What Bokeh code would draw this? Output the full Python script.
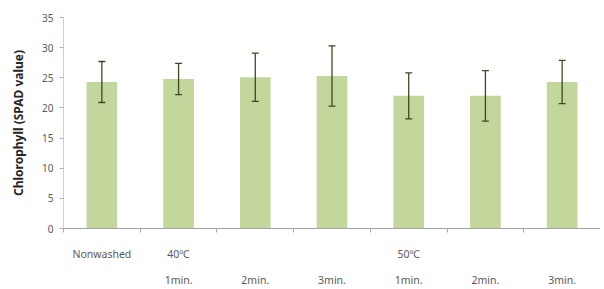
from bokeh.plotting import figure
from bokeh.models import (ColumnDataSource, Range1d, FixedTicker, LinearAxis,
                          Whisker, TeeHead)
from bokeh.embed import file_html
from bokeh.resources import INLINE

# ---- data ----
treatments = ["Nonwashed", "40℃ 1min.", "40℃ 2min.", "40℃ 3min.",
              "50℃ 1min.", "50℃ 2min.", "50℃ 3min."]
row1_labels = ["Nonwashed", "40℃", "", "", "50℃", "", ""]
row2_labels = ["", "1min.", "2min.", "3min.", "1min.", "2min.", "3min."]
spad_mean = [24.3, 24.8, 25.1, 25.3, 22.0, 22.0, 24.3]
spad_err = [3.4, 2.6, 4.0, 5.0, 3.8, 4.2, 3.6]
y_ticks = [0, 5, 10, 15, 20, 25, 30, 35]

xs = [i + 1 for i in range(len(treatments))]
src = ColumnDataSource(dict(
    x=xs, top=spad_mean,
    upper=[m + e for m, e in zip(spad_mean, spad_err)],
    lower=[m - e for m, e in zip(spad_mean, spad_err)],
))

FONT = "Noto Sans"
GRAY = "#595959"

p = figure(width=600, height=289, output_backend="svg", toolbar_location=None,
           x_range=Range1d(0.5, len(treatments) + 0.5), y_range=Range1d(0, 35),
           x_axis_location=None, min_border_left=63, min_border_top=17,
           min_border_right=0, min_border_bottom=0)
p.outline_line_color = None
p.grid.grid_line_color = None
p.background_fill_color = "white"
p.border_fill_color = "white"

p.vbar(x="x", top="top", width=0.4, source=src, fill_color="#c3d69b",
       line_color=None)

w = Whisker(base="x", upper="upper", lower="lower", source=src, level="overlay",
            line_color="#3d4a26", line_width=1.3,
            upper_head=TeeHead(size=7, line_color="#3d4a26", line_width=1.3),
            lower_head=TeeHead(size=7, line_color="#3d4a26", line_width=1.3))
p.add_layout(w)

# y axis
ya = p.yaxis[0]
ya.ticker = FixedTicker(ticks=y_ticks)
ya.axis_line_color = "#d0d0d0"
ya.major_tick_line_color = "#b0b0b0"
ya.major_tick_in = 0
ya.major_tick_out = 4
ya.minor_tick_line_color = None
ya.major_label_text_font = FONT
ya.major_label_text_font_size = "10px"
ya.major_label_text_color = GRAY
ya.major_label_standoff = 6
ya.axis_label = "Chlorophyll (SPAD value)"
ya.axis_label_text_font = FONT
ya.axis_label_text_font_size = "12px"
ya.axis_label_text_font_style = "bold"
ya.axis_label_text_color = "#262626"
ya.axis_label_standoff = 12

# x axis row 1 (with axis line and boundary ticks)
bounds = [i + 0.5 for i in range(len(treatments) + 1)]
xa1 = LinearAxis(ticker=FixedTicker(ticks=xs, minor_ticks=bounds))
xa1.axis_line_color = "#a6a6a6"
xa1.major_tick_line_color = None
xa1.major_tick_in = 0
xa1.major_tick_out = 0
xa1.minor_tick_line_color = "#a6a6a6"
xa1.minor_tick_in = 0
xa1.minor_tick_out = 4
xa1.major_label_overrides = {x: t for x, t in zip(xs, row1_labels)}
xa1.major_label_text_font = FONT
xa1.major_label_text_font_size = "10.5px"
xa1.major_label_text_color = GRAY
xa1.major_label_standoff = 14
p.add_layout(xa1, "below")

# x axis row 2
xa2 = LinearAxis(ticker=FixedTicker(ticks=xs))
xa2.axis_line_color = None
xa2.major_tick_line_color = None
xa2.major_tick_in = 0
xa2.major_tick_out = 0
xa2.minor_tick_line_color = None
xa2.major_label_overrides = {x: t for x, t in zip(xs, row2_labels)}
xa2.major_label_text_font = FONT
xa2.major_label_text_font_size = "10.5px"
xa2.major_label_text_color = GRAY
xa2.major_label_standoff = 9
p.add_layout(xa2, "below")

open("out.html", "w").write(file_html(p, INLINE))
